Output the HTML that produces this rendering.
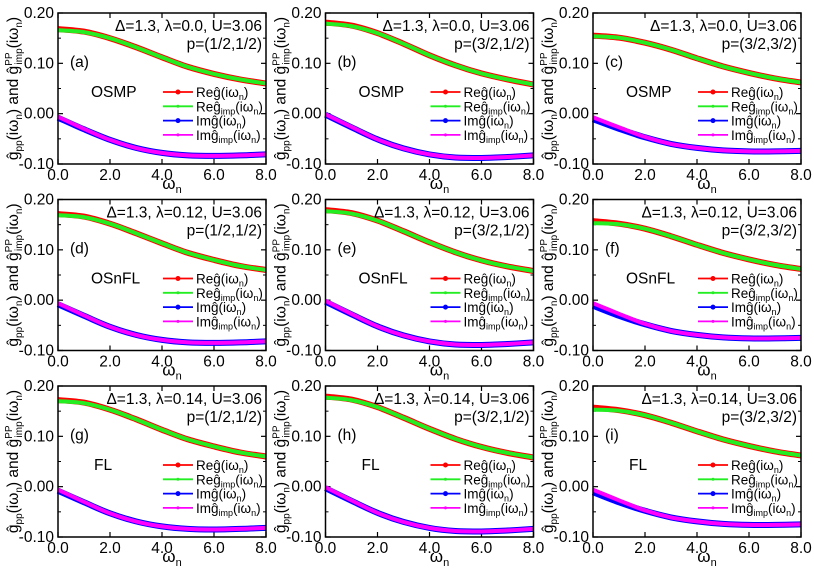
<!DOCTYPE html>
<html><head><meta charset="utf-8"><style>
body{margin:0;background:#fff}
svg{display:block;font-family:"Liberation Sans",sans-serif}
</style></head><body>
<svg id="fig" width="814" height="568" viewBox="0 0 814 568"></svg>
<script>
const omega=[0,1,2,3,4,5,6,7,8];
const xTicks=[0,2,4,6,8];
const xTickLabels=["0.0","2.0","4.0","6.0","8.0"];
const yTicks=[-0.1,0,0.1,0.2];
const yTickLabels=["-0.10","0.00","0.10","0.20"];
const labels=["(a)","(b)","(c)","(d)","(e)","(f)","(g)","(h)","(i)"];
const lambdas=["0.0","0.0","0.0","0.12","0.12","0.12","0.14","0.14","0.14"];
const momenta=["(1/2,1/2)","(3/2,1/2)","(3/2,3/2)","(1/2,1/2)","(3/2,1/2)","(3/2,3/2)","(1/2,1/2)","(3/2,1/2)","(3/2,3/2)"];
const phases=["OSMP","OSMP","OSMP","OSnFL","OSnFL","OSnFL","FL","FL","FL"];
const reG=[
[0.168,0.163,0.150,0.132,0.112,0.093,0.079,0.068,0.060],
[0.181,0.175,0.160,0.139,0.116,0.096,0.080,0.068,0.058],
[0.155,0.151,0.141,0.127,0.110,0.094,0.081,0.070,0.062],
[0.171,0.166,0.152,0.133,0.113,0.094,0.080,0.068,0.060],
[0.179,0.173,0.158,0.137,0.115,0.095,0.079,0.067,0.058],
[0.157,0.152,0.142,0.127,0.110,0.094,0.081,0.070,0.062],
[0.172,0.167,0.153,0.134,0.113,0.094,0.080,0.068,0.060],
[0.179,0.173,0.158,0.137,0.115,0.095,0.079,0.067,0.058],
[0.157,0.152,0.142,0.127,0.110,0.094,0.081,0.070,0.062]];
const reGimp=[
[0.166,0.162,0.150,0.132,0.112,0.093,0.079,0.068,0.060],
[0.179,0.174,0.160,0.139,0.116,0.096,0.080,0.068,0.058],
[0.154,0.151,0.141,0.127,0.110,0.094,0.081,0.070,0.062],
[0.169,0.165,0.152,0.133,0.113,0.094,0.080,0.068,0.060],
[0.177,0.172,0.158,0.137,0.115,0.095,0.079,0.067,0.058],
[0.153,0.151,0.142,0.127,0.110,0.094,0.081,0.070,0.062],
[0.170,0.166,0.153,0.134,0.113,0.094,0.080,0.068,0.060],
[0.177,0.172,0.158,0.137,0.115,0.095,0.079,0.067,0.058],
[0.153,0.151,0.142,0.127,0.110,0.094,0.081,0.070,0.062]];
const imG=[
[-0.008,-0.031,-0.052,-0.068,-0.078,-0.083,-0.084,-0.083,-0.081],
[-0.002,-0.027,-0.051,-0.069,-0.081,-0.087,-0.088,-0.086,-0.083],
[-0.011,-0.030,-0.047,-0.060,-0.068,-0.073,-0.075,-0.075,-0.074],
[-0.008,-0.031,-0.053,-0.069,-0.079,-0.084,-0.085,-0.084,-0.082],
[-0.003,-0.028,-0.052,-0.070,-0.082,-0.088,-0.089,-0.087,-0.084],
[-0.011,-0.031,-0.048,-0.061,-0.069,-0.074,-0.076,-0.076,-0.075],
[-0.008,-0.031,-0.053,-0.069,-0.079,-0.084,-0.085,-0.084,-0.082],
[-0.003,-0.028,-0.052,-0.070,-0.082,-0.088,-0.089,-0.087,-0.084],
[-0.011,-0.031,-0.048,-0.061,-0.069,-0.074,-0.076,-0.076,-0.075]];
const imGimp=[
[-0.006,-0.030,-0.052,-0.068,-0.078,-0.083,-0.084,-0.083,-0.081],
[-0.001,-0.026,-0.051,-0.069,-0.081,-0.087,-0.088,-0.086,-0.083],
[-0.007,-0.027,-0.046,-0.060,-0.068,-0.073,-0.075,-0.075,-0.074],
[-0.006,-0.030,-0.053,-0.069,-0.079,-0.084,-0.085,-0.084,-0.082],
[-0.001,-0.027,-0.052,-0.070,-0.082,-0.088,-0.089,-0.087,-0.084],
[-0.006,-0.027,-0.047,-0.061,-0.069,-0.074,-0.076,-0.076,-0.075],
[-0.006,-0.030,-0.053,-0.069,-0.079,-0.084,-0.085,-0.084,-0.082],
[-0.001,-0.027,-0.052,-0.070,-0.082,-0.088,-0.089,-0.087,-0.084],
[-0.006,-0.027,-0.047,-0.061,-0.069,-0.074,-0.076,-0.076,-0.075]];

const NS="http://www.w3.org/2000/svg";
const svg=document.getElementById('fig');
function mk(tag,attrs,parent,txt){const e=document.createElementNS(NS,tag);for(const k in attrs)e.setAttribute(k,attrs[k]);if(txt!==undefined)e.innerHTML=txt;parent.appendChild(e);return e;}
function smooth(pts){
  let d='M'+pts[0][0].toFixed(1)+' '+pts[0][1].toFixed(1);
  for(let i=0;i<pts.length-1;i++){
    const p0=pts[Math.max(i-1,0)],p1=pts[i],p2=pts[i+1],p3=pts[Math.min(i+2,pts.length-1)];
    const c1=[p1[0]+(p2[0]-p0[0])/6,p1[1]+(p2[1]-p0[1])/6];
    const c2=[p2[0]-(p3[0]-p1[0])/6,p2[1]-(p3[1]-p1[1])/6];
    d+=' C'+c1.map(v=>v.toFixed(1)).join(' ')+' '+c2.map(v=>v.toFixed(1)).join(' ')+' '+p2[0].toFixed(1)+' '+p2[1].toFixed(1);
  }
  return d;
}
const W=208,H=151;
for(let p=0;p<9;p++){
  const col=p%3,row=Math.floor(p/3);
  const x0=58+col*267.5,y0=13+row*186.5;
  const xs=v=>x0+v/8*W;
  const ys=v=>y0+H-(v+0.1)/0.3*H;
  const g=mk('g',{},svg);
  
  
  yTicks.forEach((t,i)=>{
    const y=ys(t);
    const tl=mk('text',{x:x0-4,y:y+5,'text-anchor':'end','font-size':15.5,fill:'#000'},g,yTickLabels[i]);
    
    
    mk('line',{x1:x0,x2:x0+5,y1:y,y2:y,stroke:'#000','stroke-width':1.2},g);
    mk('line',{x1:x0+W,x2:x0+W-5,y1:y,y2:y,stroke:'#000','stroke-width':1.2},g);
    if(i<yTicks.length-1){const ym=ys(t+0.05);
      mk('line',{x1:x0,x2:x0+3,y1:ym,y2:ym,stroke:'#000'},g);
      mk('line',{x1:x0+W,x2:x0+W-3,y1:ym,y2:ym,stroke:'#000'},g);}
  });
  xTicks.forEach((t,i)=>{
    const x=xs(t);
    const tl=mk('text',{x:x,y:y0+H+16,'text-anchor':'middle','font-size':15.5,fill:'#000'},g,xTickLabels[i]);
    
    
    mk('line',{x1:x,x2:x,y1:y0+H,y2:y0+H-5,stroke:'#000','stroke-width':1.2},g);
    mk('line',{x1:x,x2:x,y1:y0,y2:y0+5,stroke:'#000','stroke-width':1.2},g);
  });
  const xl=mk('text',{x:x0+W/2+10,y:y0+H+25,'text-anchor':'middle','font-size':17},g,'ω<tspan font-size="11" dy="4">n</tspan>');
  
  
  const yl=mk('text',{x:0,y:0,'text-anchor':'middle','font-size':15.5,transform:`translate(${x0-40},${y0+H/2}) rotate(-90)`},g,
   'ĝ<tspan font-size="10" dy="4">pp</tspan><tspan dy="-4">(iω</tspan><tspan font-size="10" dy="4">n</tspan><tspan dy="-4">) and ĝ</tspan><tspan font-size="10" dy="-6">PP</tspan><tspan font-size="10" dx="-12" dy="10">imp</tspan><tspan dy="-4">(iω</tspan><tspan font-size="10" dy="4">n</tspan><tspan dy="-4">)</tspan>');
  
  
  const series=[[reG[p],'#f00',6,'series-re-g'],[reGimp[p],'#2e2',4,'series-re-gimp'],[imG[p],'#00f',6,'series-im-g'],[imGimp[p],'#f0f',4,'series-im-gimp']];
  series.forEach(s=>{
    const pts=s[0].map((v,i)=>[xs(omega[i]),ys(v)]);
    const path=mk('path',{d:smooth(pts),fill:'none',stroke:s[1],'stroke-width':s[2],'stroke-linejoin':'round'},g);
    
    
  });
  mk('rect',{x:x0,y:y0,width:W,height:H,fill:'none',stroke:'#000','stroke-width':1.5},g);
  const t1=mk('text',{x:x0+W-4,y:y0+18,'text-anchor':'end','font-size':15.5},g,'Δ=1.3, λ='+lambdas[p]+', U=3.06');
  
  
  const t2=mk('text',{x:x0+W-4,y:y0+36,'text-anchor':'end','font-size':15.5},g,'p='+momenta[p]);
  
  
  const t3=mk('text',{x:x0+12,y:y0+54,'font-size':15.5},g,labels[p]);
  
  
  const t4=mk('text',{x:x0+(phases[p]==='FL'?36:33),y:y0+84,'font-size':15.5},g,phases[p]);
  
  
  const lg=mk('g',{},g);
  
  
  const legTxt=['Reĝ(iω<tspan font-size="9" dy="3">n</tspan><tspan dy="-3">)</tspan>',
   'Reĝ<tspan font-size="9" dy="3">imp</tspan><tspan dy="-3">(iω</tspan><tspan font-size="9" dy="3">n</tspan><tspan dy="-3">)</tspan>',
   'Imĝ(iω<tspan font-size="9" dy="3">n</tspan><tspan dy="-3">)</tspan>',
   'Imĝ<tspan font-size="9" dy="3">imp</tspan><tspan dy="-3">(iω</tspan><tspan font-size="9" dy="3">n</tspan><tspan dy="-3">)</tspan>'];
  const legCol=['#f00','#2e2','#00f','#f0f'];
  for(let i=0;i<4;i++){
    const ly=y0+79+i*14.3;
    const e=mk('g',{},lg);
    
    
    mk('line',{x1:x0+105,x2:x0+135,y1:ly,y2:ly,stroke:legCol[i],'stroke-width':1.8},e);
    mk('circle',{cx:x0+120,cy:ly,r:i%2?1.5:2.5,fill:legCol[i]},e);
    mk('text',{x:x0+138,y:ly+5,'font-size':13.5},e,legTxt[i]);
  }
}
</script>
</body></html>
